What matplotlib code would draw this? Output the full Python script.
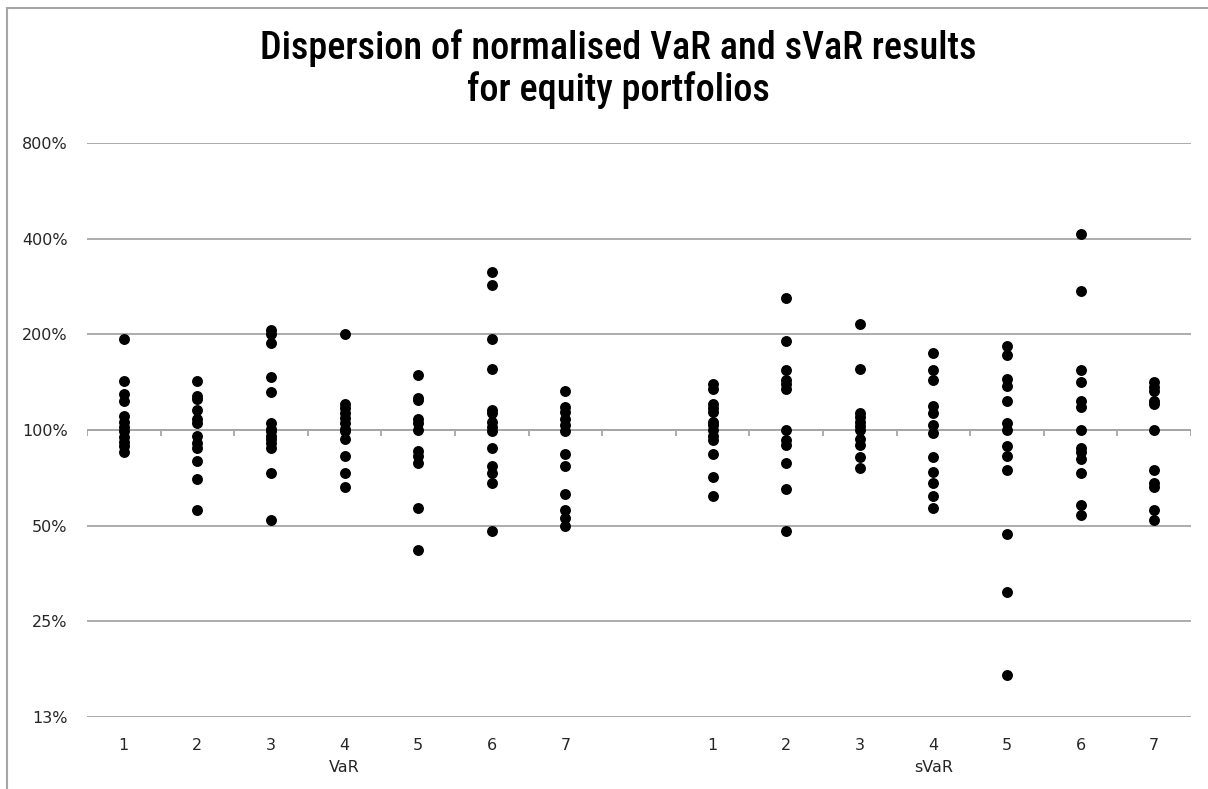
import numpy as np
import matplotlib.pyplot as plt
from matplotlib.ticker import FixedLocator, NullFormatter, NullLocator
from matplotlib.patches import Rectangle
from matplotlib import font_manager

# normalised results (% of median)
portfolios = ["1", "2", "3", "4", "5", "6", "7"]
groups = ["VaR", "sVaR"]

var_results = [
    [193, 143, 130, 123, 111, 106, 102, 99, 95, 92, 89, 85],
    [143, 128, 125, 116, 108, 105, 96, 91, 88, 80, 70, 56],
    [207, 201, 188, 147, 132, 105, 101, 99, 96, 94, 91, 88, 73, 52],
    [201, 121, 117, 113, 109, 105, 101, 99, 94, 83, 73, 66],
    [149, 126, 124, 108, 105, 100, 86, 83, 79, 57, 42],
    [315, 286, 194, 156, 116, 113, 106, 102, 99, 88, 77, 73, 68, 48],
    [133, 118, 114, 108, 104, 99, 84, 77, 63, 56, 53, 50],
]
svar_results = [
    [140, 135, 121, 117, 114, 106, 104, 100, 96, 93, 84, 71, 62],
    [260, 191, 154, 144, 140, 135, 100, 93, 90, 79, 65, 48],
    [215, 156, 113, 110, 106, 103, 100, 94, 90, 82, 76],
    [175, 155, 144, 119, 113, 104, 98, 82, 74, 68, 62, 57],
    [184, 172, 145, 138, 123, 105, 100, 89, 83, 75, 47, 31, 17],
    [414, 273, 154, 142, 123, 118, 100, 88, 85, 81, 73, 58, 54],
    [142, 137, 133, 123, 121, 100, 75, 68, 66, 56, 52],
]

y_ticks = [12.5, 25, 50, 100, 200, 400, 800]
y_labels = ["13%", "25%", "50%", "100%", "200%", "400%", "800%"]

grid_color = "#a6a6a6"
label_font = ["DejaVu Sans"]

# a narrow face for the title if one is installed
names = {f.name for f in font_manager.fontManager.ttflist}
title_font = [f for f in ["Liberation Sans Narrow", "DejaVu Sans Condensed", "Roboto Condensed"]
              if f in names] or ["DejaVu Sans"]
narrow = title_font[0] != "DejaVu Sans"

fig = plt.figure(figsize=(12.08, 7.89), dpi=100)
ax = fig.add_axes([87 / 1208, 1 - 717 / 789, (1191 - 87) / 1208, (717 - 143) / 789])

# category slots: VaR 1-7, one empty slot, sVaR 1-7
n = len(portfolios)
var_pos = np.arange(1, n + 1)
svar_pos = np.arange(n + 2, 2 * n + 2)

for pos, vals in zip(var_pos, var_results):
    ax.scatter([pos] * len(vals), vals, s=62, color="black", zorder=3, linewidths=0)
for pos, vals in zip(svar_pos, svar_results):
    ax.scatter([pos] * len(vals), vals, s=62, color="black", zorder=3, linewidths=0)

ax.set_yscale("log", base=2)
ax.set_ylim(12.5, 800)
ax.set_xlim(0.5, 2 * n + 1.5)
ax.yaxis.set_major_locator(FixedLocator(y_ticks))
ax.yaxis.set_minor_locator(NullLocator())
ax.yaxis.set_minor_formatter(NullFormatter())
ax.set_yticks(y_ticks)
ax.set_yticklabels(y_labels, fontsize=11.5, family=label_font, color="#262626")
ax.tick_params(axis="y", length=0, pad=14)
ax.grid(axis="y", color=grid_color, linewidth=1.3, zorder=1)
for side in ["left", "right", "top", "bottom"]:
    ax.spines[side].set_visible(False)

# category axis crosses at 100% with tick marks between categories
ax.set_xticks([])
bounds = np.arange(0.5, 2 * n + 2, 1.0)
ax.plot([0.5, 2 * n + 1.5], [100, 100], color=grid_color, linewidth=1.3, zorder=2)
ax.vlines(bounds, 100 * 2 ** (-6 / 95.6), 100, color=grid_color, linewidth=1.3, zorder=2)

# category labels below the plot area
trans = ax.get_xaxis_transform()
for pos, lab in zip(list(var_pos) + list(svar_pos), portfolios + portfolios):
    ax.text(pos, -28 / 574, lab, transform=trans, ha="center", va="center",
            fontsize=11.5, family=label_font, color="#262626")
ax.text(var_pos[3], -50 / 574, groups[0], transform=trans, ha="center", va="center",
        fontsize=11.5, family=label_font, color="#262626")
ax.text(svar_pos[3], -50 / 574, groups[1], transform=trans, ha="center", va="center",
        fontsize=11.5, family=label_font, color="#262626")

fig.text(618 / 1208, 1 - 69 / 789,
         "Dispersion of normalised VaR and sVaR results\nfor equity portfolios",
         ha="center", va="center", fontsize=27.5 if narrow else 22,
         family=title_font, fontweight="medium" if narrow else "semibold",
         linespacing=1.15, color="black")

# chart area border (cropped on right and bottom)
fig.patches.append(Rectangle((7 / 1208, -0.1), 1.2, 1 - 8.5 / 789 + 0.1,
                             transform=fig.transFigure, fill=False,
                             edgecolor="#a6a6a6", linewidth=1.5))

fig.savefig("out.png", dpi=100)
